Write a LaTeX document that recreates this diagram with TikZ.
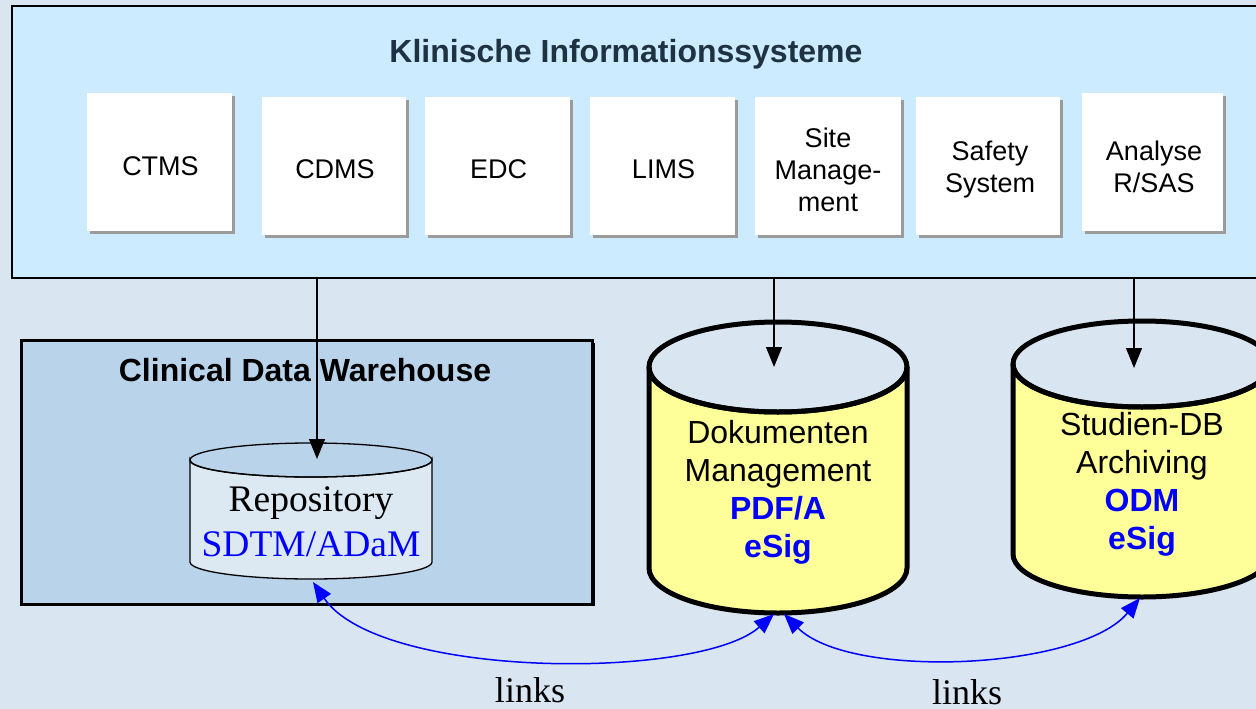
\documentclass[tikz,border=0pt]{standalone}
\usepackage{fontspec}
\setmainfont{Liberation Serif}
\setsansfont{Liberation Sans}
\usetikzlibrary{arrows.meta}
\definecolor{bgc}{RGB}{217,229,240}
\definecolor{topc}{RGB}{204,235,255}
\definecolor{cdwc}{RGB}{184,211,234}
\definecolor{repc}{RGB}{220,232,242}
\definecolor{ylw}{RGB}{255,255,153}
\definecolor{shd}{RGB}{155,155,155}
\definecolor{ttl}{RGB}{30,50,66}
\definecolor{lnkblue}{RGB}{0,0,255}
\tikzset{
  sysbox/.style={fill=white, inner sep=0pt,
    preaction={fill=shd, transform canvas={xshift=3pt,yshift=-3pt}}},
  systext/.style={align=center, inner sep=0pt, font=\sffamily\fontsize{27}{32}\selectfont},
  cyltext/.style={align=center, inner sep=0pt, font=\sffamily\fontsize{32}{38}\selectfont},
  feed/.style={draw=black, line width=1.2pt, -{Triangle[length=20pt,width=16pt]}},
  lnk/.style={draw=lnkblue, line width=1.5pt, {Triangle[length=20pt,width=16pt]}-{Triangle[length=20pt,width=16pt]}},
  lbl/.style={font=\fontsize{36}{40}\selectfont, inner sep=0pt}
}
\newcommand\mycyl[6]{% cx, ty, by, rx, ry, style
  \path[#6] (#1-#4,#2+#5) -- (#1-#4,#3-#5) arc[start angle=180,end angle=0,x radius=#4,y radius=#5]
     -- (#1+#4,#2+#5) arc[start angle=0,end angle=180,x radius=#4,y radius=#5] -- cycle;
  \path[#6,fill=none] (#1,#2+#5) ellipse[x radius=#4,y radius=#5];
}
\begin{document}
\begin{tikzpicture}[x=1pt,y=-1pt]
\useasboundingbox (0,0) rectangle (1256,709);
\clip (0,0) rectangle (1256,709);
\fill[bgc] (0,0) rectangle (1256,709);
% top box
\node[draw=black, line width=1.8pt, fill=topc, minimum width=1260pt, minimum height=272pt, anchor=north west, inner sep=0pt] (kis) at (11,5) {};
\node[font=\sffamily\bfseries\fontsize{32}{36}\selectfont, text=ttl] (kistitle) at (626,54) {Klinische Informationssysteme};
% system boxes
\node[sysbox, minimum width=145pt, minimum height=138pt] (ctms) at (159.5,162) {};
\node[sysbox, minimum width=144pt, minimum height=138pt] (cdms) at (334,166) {};
\node[sysbox, minimum width=145pt, minimum height=138pt] (edc) at (497.5,166) {};
\node[sysbox, minimum width=145pt, minimum height=138pt] (lims) at (662.5,166) {};
\node[sysbox, minimum width=146pt, minimum height=138pt] (site) at (828,166) {};
\node[sysbox, minimum width=144pt, minimum height=138pt] (safety) at (988,166) {};
\node[sysbox, minimum width=141pt, minimum height=138pt] (analyse) at (1152.5,162) {};
\node[systext] (ctmst) at (160.5,166) {CTMS};
\node[systext] (cdmst) at (335,169) {CDMS};
\node[systext] (edct) at (498.5,169) {EDC};
\node[systext] (limst) at (663.5,169) {LIMS};
\node[systext] (sitet) at (828,170) {Site\\Manage-\\ment};
\node[systext] (safetyt) at (990,170) {Safety\\System};
\node[systext] (analyset) at (1154,167) {Analyse\\R/SAS};
% CDW box
\fill[black] (23,343) rectangle (595,606);
\node[draw=black, line width=3pt, fill=cdwc, minimum width=571pt, minimum height=264pt, anchor=north west, inner sep=0pt] (cdw) at (20,339) {};
\node[font=\sffamily\bfseries\fontsize{32}{36}\selectfont] (cdwtitle) at (305,370) {Clinical Data Warehouse};
% repository cylinder
\mycyl{311}{443}{579}{121}{17}{draw=black,line width=1.3pt,fill=repc}
\node[align=center, inner sep=0pt, font=\fontsize{37.5}{45}\selectfont] (repo) at (311,522) {Repository\\\textcolor{lnkblue}{SDTM/ADaM}};
% Dokumenten cylinder
\mycyl{778}{322}{613}{129}{45}{draw=black,line width=5pt,fill=ylw}
\node[cyltext] (dok) at (778,492) {Dokumenten\\Management\\\textcolor{lnkblue}{\bfseries PDF/A}\\\textcolor{lnkblue}{\bfseries eSig}};
% Studien cylinder
\mycyl{1142}{321}{597}{129}{43}{draw=black,line width=5pt,fill=ylw}
\node[cyltext] (stud) at (1142,484) {Studien-DB\\Archiving\\\textcolor{lnkblue}{\bfseries ODM}\\\textcolor{lnkblue}{\bfseries eSig}};
% feed arrows
\coordinate (f1) at (317,277);
\coordinate (f2) at (774,277);
\coordinate (f3) at (1134,277);
\coordinate (t1) at (317,459);
\coordinate (t2) at (774,367);
\coordinate (t3) at (1134,368);
\draw[feed] (f1) -- (t1);
\draw[feed] (f2) -- (t2);
\draw[feed] (f3) -- (t3);
% links
\coordinate (r1) at (313,582);
\coordinate (d1) at (774,614);
\coordinate (d2) at (784,614);
\coordinate (s1) at (1140,598);
\draw[lnk] (r1) .. controls (380,680) and (700,680) .. (d1);
\draw[lnk] (d2) .. controls (850,680) and (1080,670) .. (s1);
\node[lbl] (l1) at (530,690) {links};
\node[lbl] (l2) at (967,692) {links};
\end{tikzpicture}
\end{document}
